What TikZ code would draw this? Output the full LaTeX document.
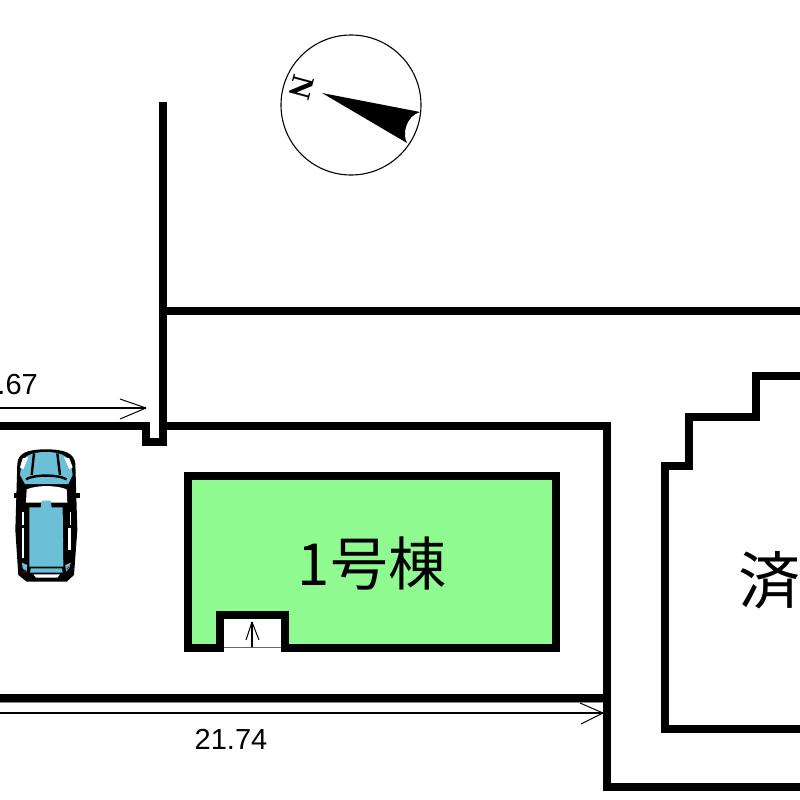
\documentclass[tikz,border=0pt]{standalone}
\usepackage{fontspec}
\setmainfont{Liberation Sans}
\newfontfamily\cjkfont{Noto Sans CJK JP}
\newfontfamily\serifn{Liberation Serif}
\definecolor{housegreen}{HTML}{8FFA8F}
\definecolor{carblue}{HTML}{6BBFD6}
\tikzset{
  wall/.style={line width=8pt,line join=miter,line cap=butt,black},
  thinline/.style={line width=1.1pt,black},
  barb/.style={line width=1pt,black},
  dimtext/.style={font=\fontsize{29}{30}\selectfont,text=black,inner sep=0pt},
  bigtext/.style={font=\cjkfont\fontsize{58}{60}\selectfont,text=black,inner sep=0pt},
}
\begin{document}
\begin{tikzpicture}[x=1pt,y=-1pt]
\useasboundingbox (0,0) rectangle (800,800);
\clip (0,0) rectangle (800,800);
\fill[white] (0,0) rectangle (800,800);
% compass
\draw[line width=1.1pt] (351,105) circle[radius=70pt];
\fill (322,93) -- (420,112) .. controls (406,116) and (402,134) .. (407,143) -- cycle;
\node[font=\serifn\bfseries\fontsize{32}{32}\selectfont,rotate=-105,inner sep=0pt] (north) at (302,87) {N};
% walls
\draw[wall] (163,102) -- (163,442) -- (145.5,442) -- (145.5,426) -- (0,426);
\draw[wall] (163,426) -- (607,426) -- (607,787) -- (800,787);
\draw[wall] (163,311) -- (800,311);
\draw[wall] (0,698) -- (607,698);
\draw[wall] (800,376) -- (756,376) -- (756,417) -- (689,417) -- (689,466) -- (665,466) -- (665,729) -- (800,729);
\draw[line width=.8pt,black!45] (0,702.4) -- (603,702.4);
% house
\draw[wall,fill=housegreen] (188,476) -- (556,476) -- (556,647.5) -- (285,647.5) -- (285,615) -- (220,615) -- (220,647.5) -- (188,647.5) -- cycle;
\fill[white] (224,619) rectangle (281,647);
\draw[line width=1pt,black!60] (224,647.5) -- (281,647.5);
\coordinate (stepfoot) at (252,647);
\coordinate (steptip) at (252,622);
\draw[thinline] (stepfoot) -- (steptip);
\draw[barb] (steptip) -- (246,640);
\draw[barb] (steptip) -- (259,640);
\node[bigtext,anchor=center] (house) at (372,564) {1号棟};
\node[bigtext,font=\cjkfont\fontsize{62}{64}\selectfont,anchor=west] (done) at (738,580) {済};
% dimensions
\coordinate (dimAleft) at (0,408);
\coordinate (dimAtip) at (146,408);
\draw[thinline] (dimAleft) -- (dimAtip);
\draw[barb] (dimAtip) -- (120,399);
\draw[barb] (dimAtip) -- (120,419);
\node[dimtext,anchor=east] (dimA) at (38,385) {.67};
\coordinate (dimBleft) at (0,713);
\coordinate (dimBtip) at (603,713);
\draw[thinline] (dimBleft) -- (dimBtip);
\draw[barb] (dimBtip) -- (580,703);
\draw[barb] (dimBtip) -- (581,724);
\node[dimtext] (dimB) at (231,739) {21.74};
% car (coordinates in 1/3 px)
\begin{scope}[shift={(0,430)},x=0.3333pt,y=-0.3333pt]
\fill (42,188) rectangle (240,204);
\fill (52,100) .. controls (55,70) and (80,58) .. (138,58) .. controls (195,58) and (222,70) .. (226,100)
  -- (232,300) -- (222,435) -- (200,455) -- (80,455) -- (55,435) -- (46,300) -- cycle;
\fill[carblue] (64,100) .. controls (72,75) and (100,66) .. (138,66) .. controls (175,66) and (203,75) .. (213,100)
  -- (218,135) -- (205,162) -- (75,162) -- (60,135) -- cycle;
\fill[white] (60,112) -- (68,85) -- (85,82) -- (70,118) -- cycle;
\fill[white] (218,112) -- (208,85) -- (192,82) -- (208,118) -- cycle;
\draw[line width=2.4pt] (102,70) -- (95,135);
\draw[line width=2.4pt] (172,70) -- (180,135);
\draw[line width=2.4pt] (78,148) .. controls (100,133) and (175,133) .. (200,148);
\fill[white] (80,178) .. controls (110,165) and (170,165) .. (200,178) -- (202,218) -- (78,218) -- cycle;
\fill[carblue] (88,232) -- (122,232) -- (125,212) -- (152,212) -- (155,232) -- (188,232) -- (190,410) -- (88,410) -- cycle;
\fill[white] (66,245) rectangle (71,285);
\fill[white] (66,295) rectangle (71,385);
\fill[white] (205,295) rectangle (213,360);
\fill[white] (210,245) rectangle (213,285);
\fill[carblue] (66,398) -- (82,405) -- (80,425) -- (68,415) -- cycle;
\fill[carblue] (196,405) -- (212,398) -- (208,415) -- (198,425) -- cycle;
\fill[carblue] (92,415) -- (186,415) -- (188,428) -- (90,428) -- cycle;
\fill[white] (100,433) -- (180,433) -- (172,443) -- (108,443) -- cycle;
\draw[red!70!black,line width=.8pt] (68,430) -- (78,420);
\draw[red!70!black,line width=.8pt] (200,418) -- (208,410);
\end{scope}
\end{tikzpicture}
\end{document}
